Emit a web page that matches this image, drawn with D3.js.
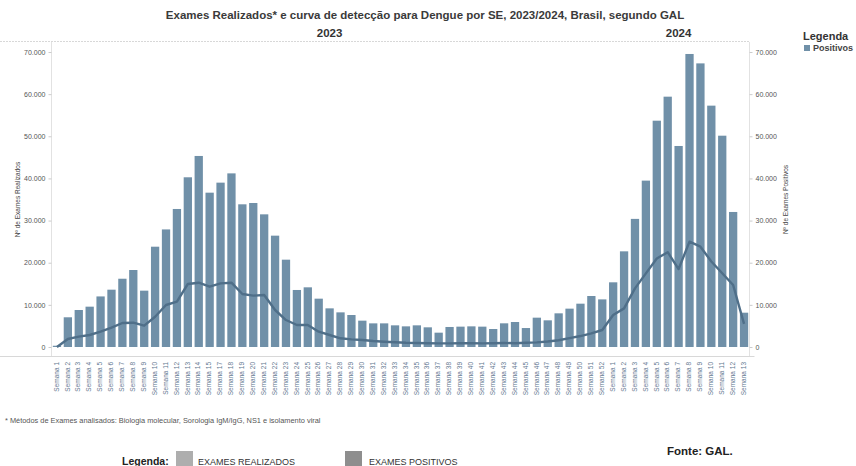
<!DOCTYPE html>
<html><head><meta charset="utf-8">
<script src="https://cdn.jsdelivr.net/npm/d3@7"></script>
<style>
html,body{margin:0;padding:0;background:#fff;}
svg{display:block;font-family:"Liberation Sans",Arial,sans-serif;}
</style></head>
<body>
<svg id="c" width="856" height="466"></svg>
<script>
// ---- data ----
const semanas = [
  "Semana 1","Semana 2","Semana 3","Semana 4","Semana 5","Semana 6","Semana 7","Semana 8","Semana 9","Semana 10",
  "Semana 11","Semana 12","Semana 13","Semana 14","Semana 15","Semana 17","Semana 18","Semana 19","Semana 20","Semana 21",
  "Semana 22","Semana 23","Semana 24","Semana 25","Semana 26","Semana 27","Semana 28","Semana 29","Semana 30","Semana 31",
  "Semana 32","Semana 33","Semana 34","Semana 35","Semana 36","Semana 37","Semana 38","Semana 39","Semana 40","Semana 41",
  "Semana 42","Semana 43","Semana 44","Semana 45","Semana 46","Semana 47","Semana 48","Semana 49","Semana 50","Semana 51",
  "Semana 52",
  "Semana 1","Semana 2","Semana 3","Semana 4","Semana 5","Semana 6","Semana 7","Semana 8","Semana 9","Semana 10",
  "Semana 11","Semana 12","Semana 13"
];
const anos = [
  2023,2023,2023,2023,2023,2023,2023,2023,2023,2023,2023,2023,2023,2023,2023,2023,2023,2023,2023,2023,
  2023,2023,2023,2023,2023,2023,2023,2023,2023,2023,2023,2023,2023,2023,2023,2023,2023,2023,2023,2023,
  2023,2023,2023,2023,2023,2023,2023,2023,2023,2023,2023,
  2024,2024,2024,2024,2024,2024,2024,2024,2024,2024,2024,2024,2024
];
const realizados = [
  300,7050,8780,9570,12000,13600,16200,18270,13370,23800,
  27900,32750,40270,45330,36620,39000,41200,33860,34170,31480,
  26420,20720,13530,14160,11470,9170,8220,7590,6250,5610,
  5610,5140,4900,5140,4670,3400,4750,4830,4900,4830,
  4270,5620,5930,4500,6960,6330,7990,9100,10280,12100,
  11300,
  15350,22700,30400,39480,53700,59400,47700,69530,67300,57270,
  50140,32040,8140
];
const positivos = [
  0,1900,2450,2850,3630,4580,5700,5770,5060,7190,
  9970,10750,14950,15260,14310,15100,15260,12580,12180,12340,
  8780,6400,5220,5220,3630,2850,2060,1820,1660,1420,
  1260,1110,1000,950,900,850,850,900,900,850,
  900,950,900,1000,1100,1300,1600,2100,2600,3240,
  4030,
  7590,9170,13920,17480,21000,22500,18500,25000,23800,20300,
  17500,14700,5500
];
const yTicks = [0,10000,20000,30000,40000,50000,60000,70000];
const anosCab = [2023, 2024];

// ---- chart ----
const svg = d3.select("#c");
const x0 = 51.5, x1 = 749.5, yTop = 52, yBot = 347;
const idx = d3.range(semanas.length);
const x = d3.scaleBand().domain(idx).range([x0, x1]).paddingInner(0.24).paddingOuter(0.12);
const y = d3.scaleLinear().domain([0, 70000]).range([yBot, yTop]);
const loc = d3.formatLocale({decimal: ",", thousands: ".", grouping: [3], currency: ["R$", ""]});
const fmt = loc.format(",d");

const barColor = "#7090a8", lineColor = "#4f6f89";

// title
svg.append("text").attr("x", 425).attr("y", 19).attr("text-anchor", "middle")
  .attr("font-size", 11.5).attr("font-weight", "bold").attr("fill", "#3a3a3a")
  .text("Exames Realizados* e curva de detecção para Dengue por SE, 2023/2024, Brasil, segundo GAL");

// year headers
const yearCenter = a => {
  const ii = idx.filter(i => anos[i] === a);
  return (x(ii[0]) + x(ii[ii.length - 1]) + x.bandwidth()) / 2;
};
svg.append("g").selectAll("text").data(anosCab).join("text")
  .attr("x", a => yearCenter(a)).attr("y", 37).attr("text-anchor", "middle")
  .attr("font-size", 11.5).attr("font-weight", "bold").attr("fill", "#333").text(a => a);
svg.append("line").attr("x1", 0).attr("x2", x1).attr("y1", 41.5).attr("y2", 41.5)
  .attr("stroke", "#d8d8d8").attr("stroke-width", 1).attr("stroke-dasharray", "2,1");

// axes lines
svg.append("line").attr("x1", x0).attr("x2", x0).attr("y1", 42).attr("y2", 356).attr("stroke", "#e2e2e2");
svg.append("line").attr("x1", x1).attr("x2", x1).attr("y1", 42).attr("y2", 356).attr("stroke", "#e2e2e2");
svg.append("line").attr("x1", 0).attr("x2", x1 + 5).attr("y1", 356.5).attr("y2", 356.5).attr("stroke", "#d8d8d8");

// left axis
const gl = svg.append("g").attr("transform", `translate(${x0},0)`)
  .call(d3.axisLeft(y).tickValues(yTicks).tickFormat(fmt).tickSize(3).tickPadding(3));
gl.select(".domain").remove();
gl.selectAll("line").attr("stroke", "#ccc");
gl.selectAll("text").attr("font-size", 7).attr("fill", "#555").attr("font-family", "Liberation Sans, Arial");

// right axis
const gr = svg.append("g").attr("transform", `translate(${x1},0)`)
  .call(d3.axisRight(y).tickValues(yTicks).tickFormat(fmt).tickSize(3).tickPadding(3));
gr.select(".domain").remove();
gr.selectAll("line").attr("stroke", "#ccc");
gr.selectAll("text").attr("font-size", 7).attr("fill", "#555").attr("font-family", "Liberation Sans, Arial");

// axis titles
svg.append("text").attr("transform", `translate(20,${(yTop + yBot) / 2}) rotate(-90)`)
  .attr("text-anchor", "middle").attr("font-size", 6.5).attr("fill", "#444").text("Nº de Exames Realizados");
svg.append("text").attr("transform", `translate(788,${(yTop + yBot) / 2}) rotate(-90)`)
  .attr("text-anchor", "middle").attr("font-size", 6.5).attr("fill", "#444").text("Nº de Exames Positivos");

// bars
svg.append("g").selectAll("rect").data(idx).join("rect")
  .attr("x", i => x(i)).attr("width", x.bandwidth())
  .attr("y", i => y(realizados[i])).attr("height", i => yBot - y(realizados[i]))
  .attr("fill", barColor);

// line
const line = d3.line().x(i => x(i) + x.bandwidth() / 2).y(i => y(positivos[i])).curve(d3.curveLinear);
svg.append("path").datum(idx).attr("d", line).attr("fill", "none")
  .attr("stroke", lineColor).attr("stroke-width", 2.4).attr("stroke-linejoin", "round");

// x labels
const gx = svg.append("g").attr("transform", `translate(0,${yBot})`)
  .call(d3.axisBottom(x).tickFormat(i => semanas[i]).tickSize(0).tickPadding(0));
gx.select(".domain").remove();
gx.selectAll("text").attr("font-size", 6.5).attr("fill", "#5f7790")
  .attr("text-anchor", "end").attr("dominant-baseline", "middle")
  .attr("transform", "translate(0,15) rotate(-90)").attr("x", 0).attr("y", 0).attr("dy", null);

// legend (top right)
svg.append("text").attr("x", 803).attr("y", 40).attr("font-size", 11).attr("font-weight", "bold")
  .attr("fill", "#333").text("Legenda");
svg.append("rect").attr("x", 804).attr("y", 45).attr("width", 6).attr("height", 6).attr("fill", barColor);
svg.append("text").attr("x", 813).attr("y", 51).attr("font-size", 9).attr("font-weight", "bold")
  .attr("fill", "#444").text("Positivos");

// footnote
svg.append("text").attr("x", 5).attr("y", 423).attr("font-size", 7.4).attr("fill", "#555")
  .text("* Métodos de Exames analisados: Biologia molecular, Sorologia IgM/IgG, NS1 e isolamento viral");

// source
svg.append("text").attr("x", 667).attr("y", 455).attr("font-size", 11.5).attr("font-weight", "bold")
  .attr("fill", "#222").text("Fonte: GAL.");

// bottom legend
svg.append("text").attr("x", 122).attr("y", 465).attr("font-size", 10.5).attr("font-weight", "bold")
  .attr("fill", "#222").text("Legenda:");
svg.append("rect").attr("x", 176).attr("y", 451).attr("width", 17).attr("height", 15).attr("fill", "#aeaeae");
svg.append("text").attr("x", 198).attr("y", 465).attr("font-size", 9).attr("fill", "#333").text("EXAMES REALIZADOS");
svg.append("rect").attr("x", 345).attr("y", 451).attr("width", 17).attr("height", 15).attr("fill", "#8e8e8e");
svg.append("text").attr("x", 369).attr("y", 465).attr("font-size", 9).attr("fill", "#333").text("EXAMES POSITIVOS");
</script>
</body></html>
